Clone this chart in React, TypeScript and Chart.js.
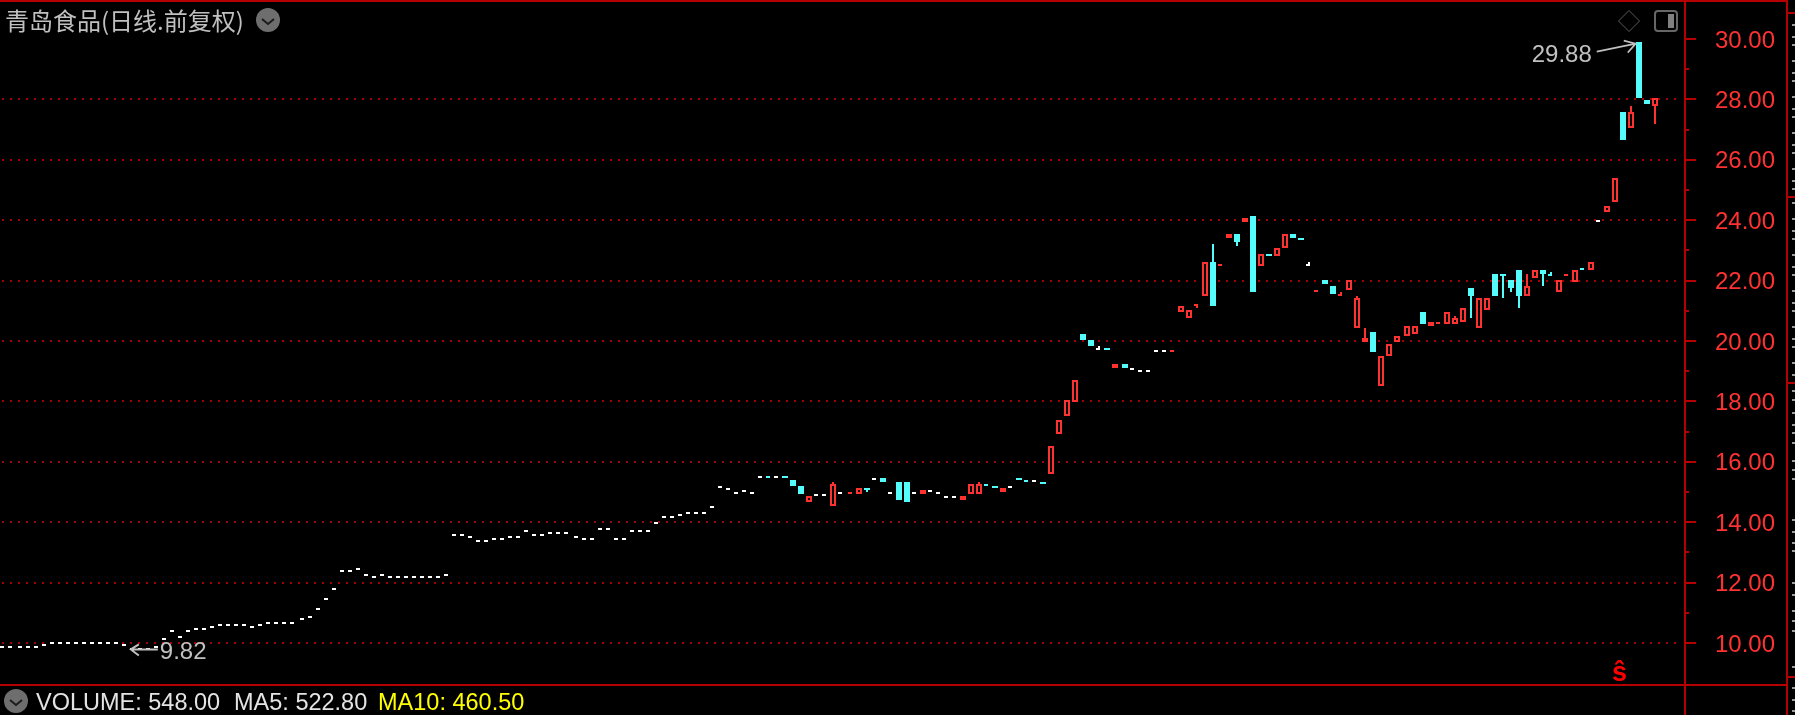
import React, { useEffect, useRef } from "react";
import { Chart, registerables } from "chart.js";

Chart.register(...registerables);

const WIDTH = 1795;
const HEIGHT = 715;

const title = "青岛食品(日线.前复权)";
const volumeText = "VOLUME: 548.00";
const ma5Text = "MA5: 522.80";
const ma10Text = "MA10: 460.50";
const priceHigh = 29.88;
const priceLow = 9.82;
const priceHighIndex = 203;
const priceLowIndex = 16;

const opens: number[] = [
  9.87, 9.87, 9.87, 9.87, 9.87, 9.93, 10, 10, 10, 10,
  10, 10, 10, 10, 10, 9.93, 9.82, 9.82, 9.82, 9.87,
  10.13, 10.4, 10.2, 10.4, 10.46, 10.46, 10.53, 10.6, 10.6, 10.6,
  10.6, 10.53, 10.6, 10.66, 10.66, 10.66, 10.66, 10.79, 10.86, 11.13,
  11.46, 11.79, 12.38, 12.38, 12.45, 12.25, 12.19, 12.25, 12.19, 12.19,
  12.19, 12.19, 12.19, 12.19, 12.19, 12.25, 13.58, 13.58, 13.51, 13.38,
  13.38, 13.44, 13.44, 13.51, 13.51, 13.71, 13.58, 13.58, 13.64, 13.64,
  13.64, 13.51, 13.44, 13.44, 13.77, 13.77, 13.44, 13.44, 13.71, 13.71,
  13.71, 13.97, 14.17, 14.17, 14.24, 14.3, 14.3, 14.3, 14.5, 15.17,
  15.1, 14.97, 15.03, 14.97, 15.5, 15.51, 15.5, 15.53, 15.4, 15.2,
  14.67, 14.9, 14.9, 14.54, 14.97, 14.96, 14.93, 15.13, 15.43, 15.46,
  14.97, 15.33, 15.33, 14.97, 14.93, 15.03, 14.97, 14.83, 14.83, 14.74,
  14.93, 14.93, 15.24, 15.2, 15.0, 15.17, 15.46, 15.37, 15.36, 15.33,
  15.6, 16.92, 17.52, 17.98, 20.23, 20.03, 19.74, 19.77, 19.11, 19.24,
  19.07, 19.01, 19.01, 19.67, 19.67, 19.66, 20.96, 20.76, 21.18, 21.49,
  22.62, 22.51, 23.41, 23.54, 23.94, 24.14, 22.48, 22.88, 22.82, 23.08,
  23.54, 23.41, 22.52, 21.65, 22.02, 21.82, 21.51, 21.69, 20.43, 19.97,
  20.3, 18.51, 19.5, 19.97, 20.17, 20.23, 20.96, 20.5, 20.59, 20.56,
  20.56, 20.63, 21.75, 20.43, 21.03, 22.22, 22.22, 22.02, 22.35, 21.49,
  22.09, 22.35, 22.2, 21.62, 22.18, 21.95, 22.39, 22.35, 23.97, 24.27,
  24.6, 27.58, 27.05, 29.88, 27.98, 27.78,
];

const closes: number[] = [
  9.87, 9.87, 9.87, 9.87, 9.87, 9.93, 10, 10, 10, 10,
  10, 10, 10, 10, 10, 9.93, 9.82, 9.82, 9.82, 9.87,
  10.13, 10.4, 10.2, 10.4, 10.46, 10.46, 10.53, 10.6, 10.6, 10.6,
  10.6, 10.53, 10.6, 10.66, 10.66, 10.66, 10.66, 10.79, 10.86, 11.13,
  11.46, 11.79, 12.38, 12.38, 12.45, 12.25, 12.19, 12.25, 12.19, 12.19,
  12.19, 12.19, 12.19, 12.19, 12.19, 12.25, 13.58, 13.58, 13.51, 13.38,
  13.38, 13.44, 13.44, 13.51, 13.51, 13.71, 13.58, 13.58, 13.64, 13.64,
  13.64, 13.51, 13.44, 13.44, 13.77, 13.77, 13.44, 13.44, 13.71, 13.71,
  13.71, 13.97, 14.17, 14.17, 14.24, 14.3, 14.3, 14.3, 14.5, 15.17,
  15.1, 14.97, 15.03, 14.97, 15.5, 15.5, 15.5, 15.47, 15.2, 14.93,
  14.87, 14.9, 14.9, 15.26, 14.97, 14.97, 15.13, 15.07, 15.43, 15.33,
  14.97, 14.74, 14.67, 14.97, 15.07, 15.03, 14.97, 14.83, 14.83, 14.87,
  15.26, 15.26, 15.23, 15.13, 15.13, 15.17, 15.4, 15.36, 15.36, 15.26,
  16.52, 17.38, 18.05, 18.71, 20.03, 19.83, 19.74, 19.7, 19.24, 19.11,
  19.07, 19.01, 19.01, 19.67, 19.67, 19.67, 21.16, 21.03, 21.19, 22.62,
  21.16, 22.52, 23.54, 23.28, 24.07, 21.62, 22.88, 22.82, 23.08, 23.54,
  23.41, 23.34, 22.52, 21.66, 21.89, 21.56, 21.52, 22.02, 21.42, 20.1,
  19.64, 19.5, 19.9, 20.17, 20.5, 20.5, 20.56, 20.63, 20.6, 20.96,
  20.76, 21.09, 21.49, 21.42, 21.42, 21.49, 22.15, 21.75, 21.49, 21.82,
  22.35, 22.22, 22.19, 22.02, 22.19, 22.35, 22.38, 22.62, 23.97, 24.47,
  25.4, 26.66, 27.58, 28.05, 27.85, 28.05,
];

const highWicks: Record<number, number> = {
  103: 15.33, 121: 15.33, 136: 19.83, 150: 23.21, 162: 22.62, 166: 21.62,
  168: 21.49, 169: 20.43, 180: 20.83, 189: 22.22, 192: 22.28, 202: 27.78,
};
const lowWicks: Record<number, number> = {
  107: 15.0, 148: 21.09, 153: 23.15, 182: 20.76, 186: 21.42, 187: 21.62,
  188: 21.09, 191: 21.82, 205: 27.19,
};

const RED = "#ff3232";
const CYAN = "#54fcfc";
const WHITE = "#ffffff";
const FRAME = "#b40000";
const DOT = "#a80000";
const GREY = "#c0c0c0";

// Layout of the price axis: 10 sits at y=643, 30.2px per unit.
const PLOT_BOTTOM = 685;
const Y_MIN = 10 - (PLOT_BOTTOM - 643) / 30.2;
const Y_MAX = 10 + 643 / 30.2;
// Layout of the time axis.
const SLOT = 8.0584;
const FIRST_CENTRE = 3.892;
const PLOT_RIGHT = 1685;
const X_MIN = -FIRST_CENTRE / SLOT;
const X_MAX = X_MIN + PLOT_RIGHT / SLOT;

const isDash = (i: number) => Math.abs(opens[i] - closes[i]) < 0.025;
const colourOf = (i: number) =>
  closes[i] > opens[i] ? RED : closes[i] < opens[i] ? CYAN : WHITE;

const bodyData = opens.map((o, i) => ({ x: i, y: isDash(i) ? null : [o, closes[i]] }));
const dashData = opens.map((o, i) => ({ x: i, y: isDash(i) ? [o, closes[i]] : null }));
const wickData = opens.map((o, i) => {
  const top = Math.max(o, closes[i]);
  const bottom = Math.min(o, closes[i]);
  const hi = highWicks[i] ?? top;
  const lo = lowWicks[i] ?? bottom;
  return { x: i, y: hi > top || lo < bottom ? [lo, hi] : null };
});

const evenPx = (v: number) => 2 * Math.round(v / 2);
const oddPx = (v: number) => 2 * Math.floor(v / 2) + 1;

const edgeMarks = [
  25, 37, 45, 61, 73, 81, 97, 109, 117, 133, 145, 153, 169, 181, 189, 203, 219, 231, 239, 255,
  267, 275, 291, 303, 311, 327, 339, 347, 363, 375, 391, 400, 413, 425, 433, 443, 461, 470, 479,
  520, 532, 543, 551, 583, 595, 611, 621, 631, 667, 688, 700, 711,
];
const edgeRed = [13, 197, 383, 677];

function chevronDisc(ctx: CanvasRenderingContext2D, cx: number, cy: number) {
  ctx.fillStyle = "#6e6e6e";
  ctx.beginPath();
  ctx.arc(cx, cy, 12, 0, Math.PI * 2);
  ctx.fill();
  ctx.strokeStyle = "#1c1c1c";
  ctx.lineWidth = 2;
  ctx.beginPath();
  ctx.moveTo(cx - 6, cy - 1);
  ctx.lineTo(cx, cy + 4);
  ctx.lineTo(cx + 6, cy - 1);
  ctx.stroke();
}

const snapPlugin = {
  id: "snapPlugin",
  afterDatasetsUpdate(chart: any) {
    [0, 1, 2].forEach((d) => {
      chart.getDatasetMeta(d).data.forEach((el: any) => {
        if (!Number.isFinite(el.y) || !Number.isFinite(el.base)) return;
        const left = evenPx(el.x - 3);
        if (d === 1) {
          const mid = oddPx((el.y + el.base) / 2);
          el.x = left + 2;
          el.y = mid - 1;
          el.base = mid + 1;
        } else {
          el.x = left + 3;
          let top = evenPx(Math.min(el.y, el.base));
          let bottom = evenPx(Math.max(el.y, el.base));
          if (bottom - top < 2) bottom = top + 2;
          el.y = top;
          el.base = bottom;
        }
      });
    });
  },
  beforeDraw(chart: any) {
    // digits sit on the tick line rather than the em box
    if (chart.$labelsNudged) return;
    chart.$labelsNudged = true;
    chart.scales.y.getLabelItems(chart.chartArea).forEach((item: any) => {
      item.options.translation[1] += 2;
    });
  },
};

const framePlugin = {
  id: "framePlugin",
  afterDraw(chart: any) {
    const ctx: CanvasRenderingContext2D = chart.ctx;
    const xs = chart.scales.x;
    const ys = chart.scales.y;
    ctx.save();

    // gap between the last grid dot and the axis
    ctx.fillStyle = "#000";
    ctx.fillRect(1677, 0, 7, PLOT_BOTTOM);

    // frame
    ctx.fillStyle = FRAME;
    ctx.fillRect(0, 0, 1788, 2);
    ctx.fillRect(0, PLOT_BOTTOM - 1, 1787, 2);
    ctx.fillRect(PLOT_RIGHT - 1, 0, 2, HEIGHT);
    ctx.fillRect(1786, 0, 2, HEIGHT);

    // axis tick marks
    ys.ticks.forEach((t: any) => {
      if (t.value < 10 || t.value > 30) return;
      const y = Math.round(ys.getPixelForValue(t.value));
      const len = t.value % 2 === 0 ? 11 : 4;
      ctx.fillRect(PLOT_RIGHT, y - 1, len, 2);
    });

    // clipped neighbour panel at the far right
    edgeRed.forEach((y) => ctx.fillRect(1788, y - 1, 7, 2));
    ctx.fillStyle = "#9a9a9a";
    edgeMarks.forEach((y) => ctx.fillRect(1792, y - 1, 3, 2));

    ctx.textBaseline = "alphabetic";
    ctx.textAlign = "left";

    // header
    ctx.fillStyle = GREY;
    ctx.font = '24px "Noto Sans CJK SC"';
    ctx.fillText(title, 5, 30);
    chevronDisc(ctx, 268, 20);

    // diamond and panel icons
    ctx.strokeStyle = "#5a5a5a";
    ctx.lineWidth = 1;
    ctx.beginPath();
    ctx.moveTo(1629, 10.5);
    ctx.lineTo(1639.5, 21);
    ctx.lineTo(1629, 31.5);
    ctx.lineTo(1618.5, 21);
    ctx.closePath();
    ctx.stroke();
    ctx.strokeStyle = "#666666";
    ctx.lineWidth = 2;
    ctx.beginPath();
    ctx.roundRect(1655, 11, 22, 20, 3);
    ctx.stroke();
    ctx.fillStyle = "#808080";
    ctx.fillRect(1668, 14, 6, 14);

    // high / low arrows
    ctx.fillStyle = GREY;
    ctx.strokeStyle = GREY;
    ctx.font = '24px "Liberation Sans"';
    const hiX = xs.getPixelForValue(priceHighIndex) - 4;
    const hiY = ys.getPixelForValue(priceHigh) + 1;
    ctx.fillText(priceHigh.toFixed(2), hiX - 104, hiY + 18);
    ctx.lineWidth = 1.6;
    ctx.beginPath();
    ctx.moveTo(hiX - 39, hiY + 8);
    ctx.lineTo(hiX, hiY);
    ctx.moveTo(hiX - 12, hiY - 3);
    ctx.lineTo(hiX, hiY);
    ctx.lineTo(hiX - 8, hiY + 9);
    ctx.stroke();

    const loX = xs.getPixelForValue(priceLowIndex) - 2;
    const loY = ys.getPixelForValue(priceLow) + 1;
    ctx.fillText(priceLow.toFixed(2), loX + 29, loY + 10);
    ctx.lineWidth = 2;
    ctx.beginPath();
    ctx.moveTo(loX + 27, loY);
    ctx.lineTo(loX, loY);
    ctx.moveTo(loX + 8, loY - 5);
    ctx.lineTo(loX, loY);
    ctx.lineTo(loX + 8, loY + 6);
    ctx.stroke();

    // signal mark
    ctx.fillStyle = "#ff0000";
    ctx.font = 'bold 27px "Liberation Sans"';
    ctx.fillText("ŝ", 1612, 681);

    // footer
    chevronDisc(ctx, 16, 701);
    ctx.font = '23.5px "Liberation Sans"';
    ctx.fillStyle = "#e4e4e4";
    ctx.fillText(volumeText, 36, 710);
    ctx.fillText(ma5Text, 234, 710);
    ctx.fillStyle = "#ffff00";
    ctx.fillText(ma10Text, 378, 710);

    ctx.restore();
  },
};

export default function App() {
  const ref = useRef<HTMLCanvasElement>(null);

  useEffect(() => {
    if (!ref.current) return;
    const chart = new Chart(ref.current, {
      type: "bar",
      data: {
        datasets: [
          {
            label: "body",
            data: bodyData as any,
            order: 1,
            barThickness: 6,
            grouped: false,
            inflateAmount: 0,
            borderSkipped: false,
            backgroundColor: opens.map((_, i) => (colourOf(i) === RED ? "#000000" : colourOf(i))),
            borderColor: opens.map((_, i) => colourOf(i)),
            borderWidth: opens.map((_, i) => (colourOf(i) === RED ? 2 : 0)),
          },
          {
            label: "flat",
            data: dashData as any,
            order: 2,
            barThickness: 4,
            grouped: false,
            inflateAmount: 0,
            borderSkipped: false,
            borderWidth: 0,
            backgroundColor: opens.map((_, i) => colourOf(i)),
          },
          {
            label: "wick",
            data: wickData as any,
            order: 3,
            barThickness: 2,
            grouped: false,
            inflateAmount: 0,
            borderSkipped: false,
            borderWidth: 0,
            backgroundColor: opens.map((_, i) => colourOf(i)),
          },
        ] as any,
      },
      options: {
        animation: false,
        responsive: false,
        devicePixelRatio: 1,
        events: [],
        layout: { padding: { left: 0, top: 0, right: 0, bottom: HEIGHT - PLOT_BOTTOM } },
        plugins: { legend: { display: false }, tooltip: { enabled: false } },
        scales: {
          x: {
            type: "linear",
            display: false,
            offset: false,
            min: X_MIN,
            max: X_MAX,
            grid: { display: false },
          },
          y: {
            type: "linear",
            position: "right",
            min: Y_MIN,
            max: Y_MAX,
            afterFit(scale: any) {
              scale.width = WIDTH - PLOT_RIGHT;
              scale.paddingTop = 0;
              scale.paddingBottom = 0;
            },
            border: { display: false, dash: [2, 6], dashOffset: 6 },
            grid: {
              drawTicks: false,
              lineWidth: 2,
              color: (c: any) =>
                c.tick && c.tick.value % 2 === 0 && c.tick.value < 30 ? DOT : "rgba(0,0,0,0)",
            },
            ticks: {
              stepSize: 1,
              includeBounds: false,
              autoSkip: false,
              padding: 30,
              color: RED,
              font: { family: '"Liberation Sans"', size: 24 },
              callback: (v: any) => (Number(v) % 2 === 0 ? Number(v).toFixed(2) : ""),
            },
          },
        },
      } as any,
      plugins: [snapPlugin, framePlugin] as any,
    });
    return () => chart.destroy();
  }, []);

  return (
    <div style={{ position: "fixed", left: 0, top: 0, width: WIDTH, height: HEIGHT, background: "#000", overflow: "hidden" }}>
      <canvas ref={ref} width={WIDTH} height={HEIGHT} style={{ display: "block" }} />
    </div>
  );
}
